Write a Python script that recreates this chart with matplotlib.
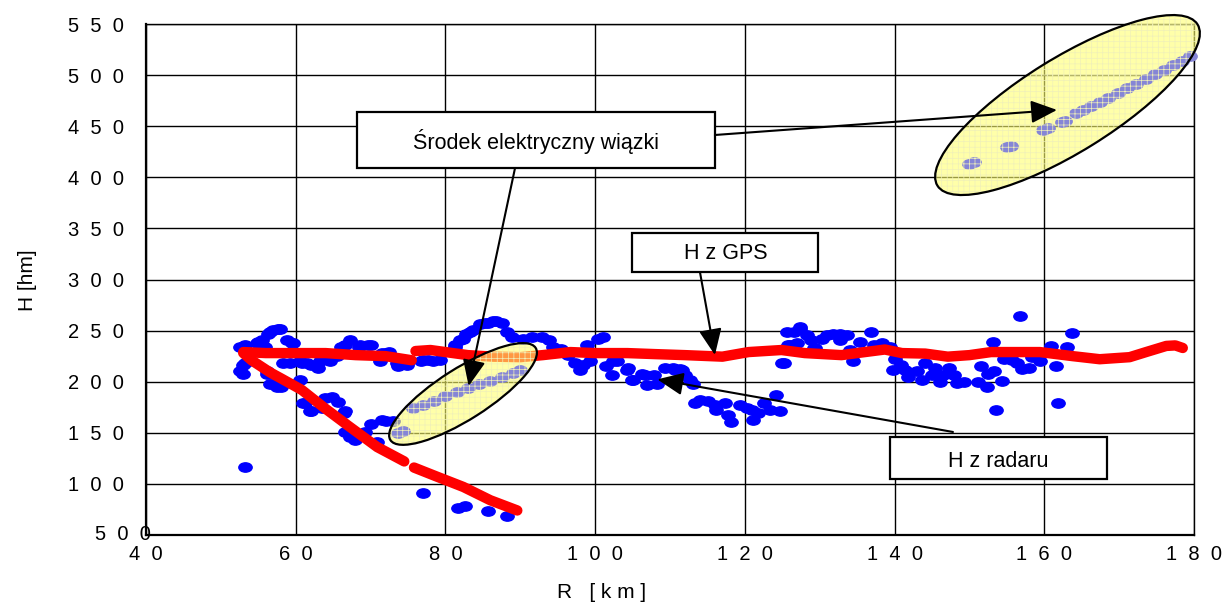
import matplotlib
matplotlib.use('Agg')
import matplotlib.pyplot as plt
import matplotlib.transforms as mtransforms
from matplotlib.patches import Ellipse, Rectangle
from matplotlib.path import Path

plt.rcParams['font.family'] = ['Liberation Sans', 'DejaVu Sans']
plt.rcParams['hatch.linewidth'] = 0.5

# H z radaru (niebieskie punkty)
radar_r = [52.6, 53.0, 53.2, 53.0, 53.2, 53.0, 52.6, 53.2,
           54.8, 55.0, 55.5, 55.9, 56.3, 56.6, 57.0, 57.7, 57.9,
           58.8, 59.5, 59.7, 56.1, 56.1, 56.6, 57.0, 57.5, 58.1,
           58.3, 59.2, 60.6, 60.8, 61.5, 62.1, 63.0, 63.2, 64.4,
           60.6, 61.2, 61.0, 61.9, 62.1, 63.5, 63.9, 64.8, 65.7,
           66.4, 66.6, 64.6, 65.5, 66.1, 66.6, 67.3, 68.4, 68.6,
           69.7, 70.1, 71.5, 72.1, 72.4, 71.3, 73.5, 73.7, 74.8,
           74.8, 76.8, 77.0, 78.4,
           67.3, 67.9, 66.6, 69.2, 70.1, 70.8, 71.5, 72.1, 73.0,
           77.0, 81.7, 82.6, 85.7, 88.2,
           77.7, 79.3, 81.3, 81.3, 82.0, 82.4, 82.8, 83.3, 83.7,
           84.6, 85.3, 85.7, 86.4, 86.8, 87.5, 88.2, 88.9, 90.4,
           91.5, 92.9, 93.8, 94.4, 95.5, 96.4, 97.3, 98.4, 98.0,
           98.9, 100.4, 101.1, 99.3, 101.5, 102.4, 102.2,
           102.9, 104.2, 104.4, 104.9, 105.1, 106.2, 106.7, 106.9, 107.8,
           108.2, 109.3, 110.4, 110.7, 111.3, 111.6, 112.0, 112.7, 113.1,
           113.3, 114.0, 115.1, 116.0, 116.2, 117.4, 117.8, 118.2, 119.4,
           120.3, 120.9, 121.1, 121.8, 122.5, 123.4, 124.1, 124.7,
           124.9, 125.2, 125.8, 126.0,
           125.6, 126.5, 127.4, 127.4, 126.9, 128.3, 129.2, 129.4, 128.9,
           130.3, 131.0, 131.8, 132.7, 132.7, 133.6, 134.1, 134.5, 135.4,
           136.9, 137.2, 138.3, 139.4, 140.1, 139.8, 140.9, 141.4, 141.8,
           143.0, 143.6, 144.1, 145.0, 145.4, 146.1, 146.5, 147.3, 147.9,
           148.3, 149.3, 151.2, 151.5, 152.3, 152.5, 153.3, 153.1, 153.5,
           154.4, 154.6, 155.7, 156.3, 157.0, 158.0, 158.3, 159.4, 160.9,
           161.5, 163.1, 163.7, 161.8, 156.7]
radar_h = [234, 234, 236, 216, 218, 208, 210, 117,
           238, 239, 241, 234, 247, 249, 251, 252, 252,
           241, 238, 238, 208, 210, 198, 198, 195, 195,
           218, 218, 220, 218, 218, 216, 213, 220, 221,
           202, 179, 179, 171, 171, 174, 184, 185, 180,
           169, 171, 220, 225, 234, 236, 241, 234, 236,
           236, 236, 228, 228, 229, 220, 218, 215, 218,
           216, 220, 221, 220,
           146, 143, 151, 151, 159, 141, 163, 162, 162,
           91, 76, 78, 73, 69,
           221, 221, 234, 236, 241, 242, 247, 249, 251,
           256, 257, 257, 259, 259, 257, 249, 244, 242,
           244, 244, 241, 234, 232, 226, 218, 216, 211,
           236, 242, 244, 220, 215, 220, 207,
           220, 211, 213, 202, 202, 208, 207, 197, 207,
           198, 213, 213, 211, 212, 211, 207, 202, 198,
           179, 182, 181, 177, 172, 179, 167, 161, 177,
           174, 172, 163, 169, 179, 172, 187, 171,
           218, 218, 236, 236,
           249, 249, 252, 254, 238, 246, 233, 233, 241,
           242, 246, 247, 247, 241, 246, 231, 220, 239,
           249, 236, 238, 234, 222, 211, 216, 211, 205,
           210, 202, 218, 207, 213, 200, 207, 213, 207,
           199, 200, 200, 215, 195, 208, 210, 239, 172,
           201, 222, 221, 218, 212, 213, 224, 220, 235,
           215, 234, 248, 179, 264]

# srodek elektryczny wiazki (punkty w elipsach)
beam_low_r = [73.6, 74.3, 75.7, 77.0, 78.5, 80.0, 81.5, 83.0, 84.5, 86.0, 87.5, 89.0, 90.0]
beam_low_h = [150, 152, 174, 177.5, 181.5, 186, 190, 194, 197.5, 201, 205, 209, 211]
beam_up_r = [150.0, 150.6, 155.0, 155.6, 159.8, 160.5, 162.3, 162.8, 164.3, 165.2, 166.3,
             167.5, 168.5, 169.8, 171.0, 172.3, 173.6, 174.8, 176.0, 177.2, 178.4, 179.4]
beam_up_h = [413, 415, 430, 431, 446, 448, 454, 455, 463, 466, 470,
             474, 478, 482, 487, 491, 496, 501, 505, 510, 514, 519]

# H z GPS (czerwone)
gps_a_r = [53, 56, 60, 64, 68, 72, 75.5]
gps_a_h = [229, 228, 228, 228, 226, 225, 221]
gps_b_r = [76, 78, 80, 83, 86.4, 90, 93, 96.7, 100, 104.3, 108, 112, 117, 120.5, 124.9,
           128, 132.9, 135, 138.7, 141, 144.1, 147.1, 150, 152.9, 156, 159.4, 163.8,
           167.4, 171.4, 173.6, 176.3, 177.5, 178.5]
gps_b_h = [230, 231, 229, 226, 224.5, 224, 226, 229, 228, 228, 227, 226, 224.5, 229, 231,
           228, 226, 228, 231.5, 228, 227.5, 224.5, 226, 229, 229, 229, 225,
           222, 224, 229, 235, 235.5, 233]
gps_c_r = [53, 54.1, 56.6, 58.1, 60.8, 63.9, 67.0, 70.9, 74.5]
gps_c_h = [228, 221, 209, 203, 192, 174, 157, 136, 122]
gps_d_r = [75.8, 78.9, 82.4, 86.0, 89.6]
gps_d_h = [116, 107, 97, 84, 74]

x_ticks = list(range(40, 181, 20))
y_ticks = list(range(50, 551, 50))


def spaced(v):
    return '  '.join(str(v))


fig = plt.figure(figsize=(12.24, 6.04), dpi=100)
ax = fig.add_axes([146 / 1224, 69 / 604, 1048 / 1224, 511 / 604])

circ = Path.unit_circle()
dot = Path(circ.vertices * [1.0, 0.7], circ.codes)

ax.plot(radar_r, radar_h, linestyle='none', marker=dot, markersize=9.6,
        color='#0000ff', zorder=2)
for rr, hh in [(gps_a_r, gps_a_h), (gps_b_r, gps_b_h), (gps_c_r, gps_c_h), (gps_d_r, gps_d_h)]:
    ax.plot(rr, hh, color='#ff0000', lw=7.5, solid_capstyle='round',
            solid_joinstyle='round', zorder=3)
# punkty w elipsach widoczne jako lawendowe
for rr, hh in [(beam_low_r, beam_low_h), (beam_up_r, beam_up_h)]:
    ax.plot(rr, hh, linestyle='none', marker=dot, markersize=9.6,
            color='#8585d6', zorder=4.5, clip_on=False)


def blob(cx, cy, w, h, ang):
    tr = mtransforms.ScaledTranslation(cx, cy, ax.transData)
    ax.add_patch(Ellipse((0, 0), w, h, angle=ang, transform=tr, clip_on=False,
                         facecolor='#ffff70', alpha=0.6, edgecolor='none', zorder=4))
    ax.add_patch(Ellipse((0, 0), w, h, angle=ang, transform=tr, fill=False, clip_on=False,
                         hatch='+++', edgecolor='#f0f0b8', lw=0, zorder=4.6))
    ax.add_patch(Ellipse((0, 0), w, h, angle=ang, transform=tr, fill=False, clip_on=False,
                         edgecolor='black', lw=1.6, zorder=5))


blob(163.1, 470.7, 306, 94, 31.8)
blob(82.35, 188, 172, 51, 32.4)

# ramki z opisami
boxes = [((68.2, 409.1), 47.8, 54.8, 'Środek elektryczny wiązki', (92.1, 435.5)),
         ((104.9, 307.3), 24.9, 38.2, 'H z GPS', (117.4, 325.5)),
         ((139.4, 104.8), 29.0, 41.1, 'H z radaru', (153.9, 122.0))]
for xy, w, h, txt, pos in boxes:
    ax.add_patch(Rectangle(xy, w, h, facecolor='white', edgecolor='black', lw=1.6, zorder=6))
    ax.text(pos[0], pos[1], txt, ha='center', va='center', fontsize=15.5, zorder=7)

arrows = [((116.0, 441.4), (161.7, 465.9)),
          ((89.3, 409.1), (83.1, 195.8)),
          ((114.0, 307.3), (116.0, 226.1)),
          ((147.8, 150.8), (108.3, 202.3))]
for start, tip in arrows:
    ax.annotate('', xy=tip, xytext=start, zorder=8,
                arrowprops=dict(arrowstyle='-|>,head_length=0.8,head_width=0.35',
                                color='black', lw=1.5, mutation_scale=20,
                                shrinkA=0, shrinkB=0))

ax.set_xlim(40, 180)
ax.set_ylim(50, 550)
ax.set_xticks(x_ticks)
ax.set_yticks(y_ticks)
ax.set_xticklabels([spaced(v) for v in x_ticks], fontsize=14.5)
ax.set_yticklabels([''] + [spaced(v) for v in y_ticks[1:]], fontsize=14.5)
ax.tick_params(axis='both', length=0)
ax.tick_params(axis='y', pad=16)
ax.tick_params(axis='x', pad=7)
ax.grid(True, color='black', lw=1.0, zorder=1)
ax.set_axisbelow(True)
for s in ax.spines.values():
    s.set_color('black')
    s.set_linewidth(1.0)
ax.spines['left'].set_linewidth(1.6)
ax.spines['bottom'].set_linewidth(1.6)

# etykieta 50 przesunieta jak w oryginale
fig.text(151 / 1224, 1 - 535 / 604, spaced(y_ticks[0]) + '  0', ha='right', va='center', fontsize=14.5)

fig.text(28 / 1224, 1 - 280 / 604, 'H [hm]', rotation=90, ha='center', va='center', fontsize=15)
fig.text(557 / 1224, 1 - 592 / 604, 'R   [ k m ]', ha='left', va='center', fontsize=15)

fig.savefig('out.png', dpi=100)
